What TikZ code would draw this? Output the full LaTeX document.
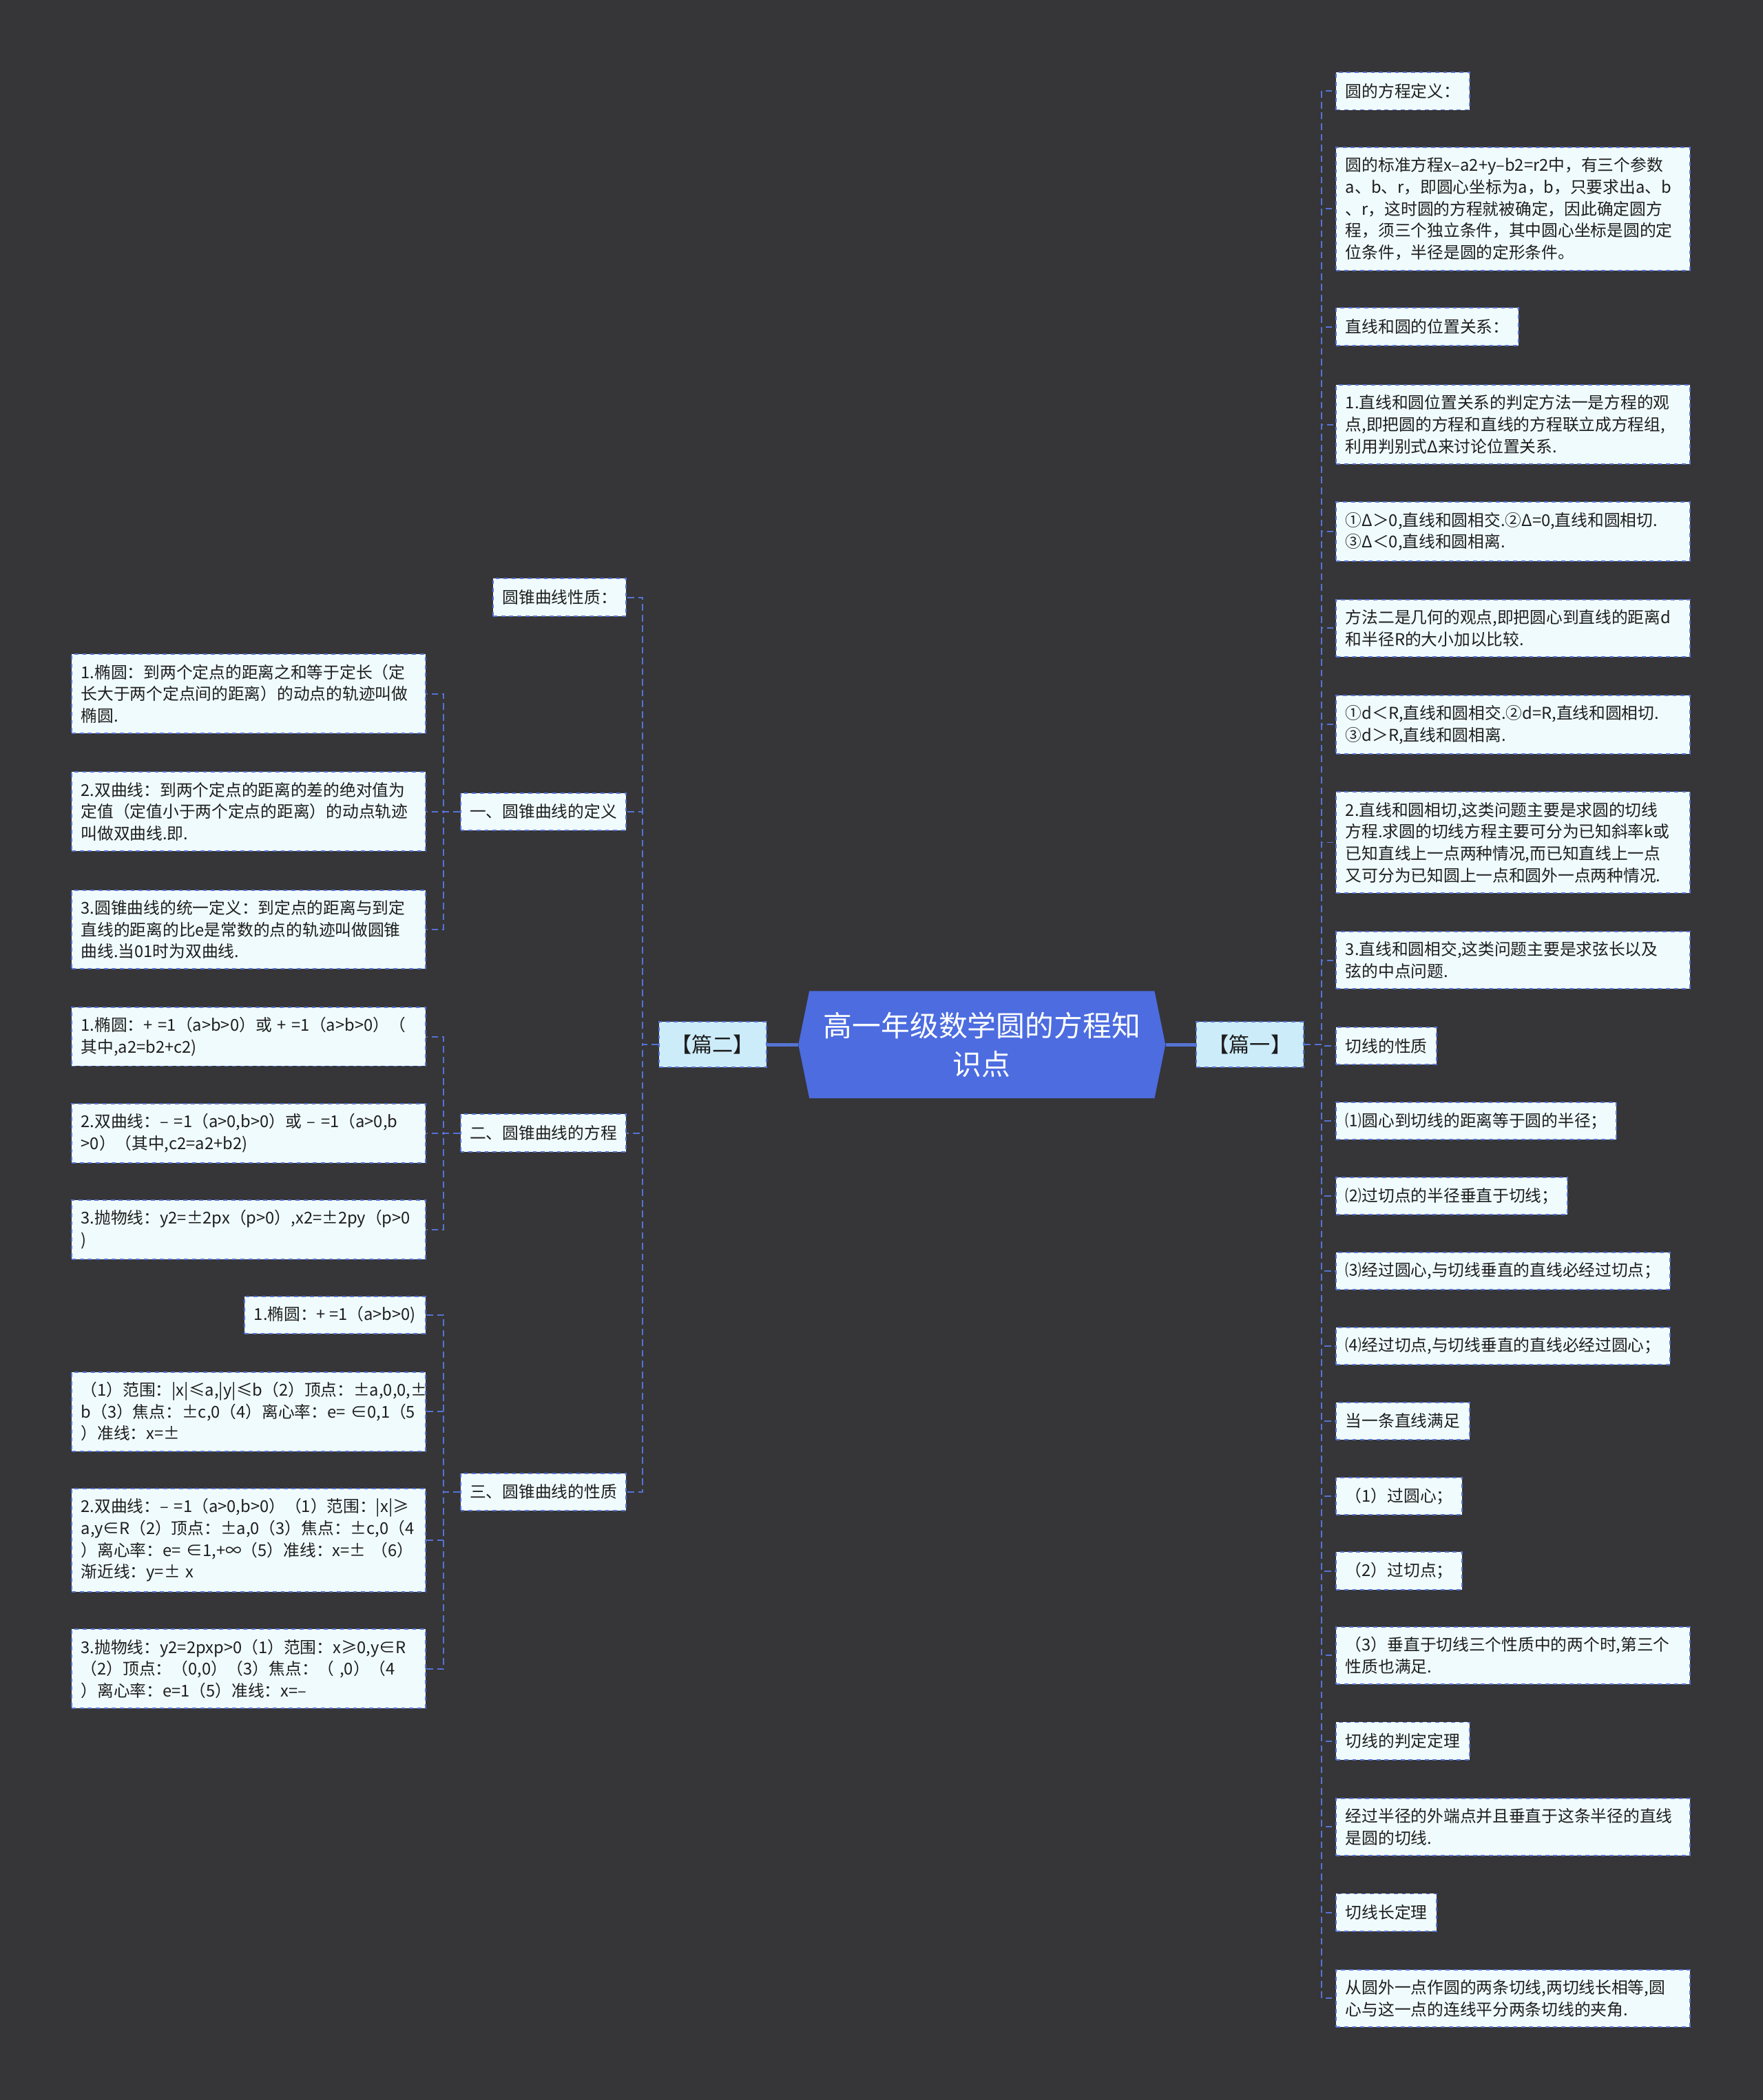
\documentclass[tikz,border=0pt]{standalone}
\usepackage{fontspec}
\setmainfont{Noto Sans CJK SC}
\usetikzlibrary{shapes.symbols}
\definecolor{bgdark}{RGB}{54,53,56}
\definecolor{rootblue}{RGB}{76,108,224}
\definecolor{linkblue}{RGB}{84,116,212}
\definecolor{partfill}{RGB}{204,236,250}
\definecolor{leaffill}{RGB}{240,251,253}
\definecolor{inktext}{RGB}{30,30,30}

\begin{document}
\begin{tikzpicture}[x=1pt,y=-1pt]
\tikzset{
  rootnode/.style={signal,signal to=west and east,signal pointer angle=157,fill=rootblue,draw=none,minimum width=274pt,minimum height=80pt,inner sep=2pt,align=center,text=white,font=\fontsize{21.5}{29}\selectfont},
  partnode/.style={rectangle,fill=partfill,draw=linkblue,dashed,line width=1pt,minimum width=80pt,minimum height=34pt,inner sep=2pt,text=inktext,font=\fontsize{15.5}{18}\selectfont},
  leafnode/.style={rectangle,fill=leaffill,draw=linkblue,dashed,line width=1pt,minimum height=28pt,inner xsep=7pt,inner ysep=7.5pt,align=left,text=inktext,font=\fontsize{12.2}{16.3}\selectfont},
  leafwide/.style={leafnode,text width=250pt},
  rootedge/.style={draw=linkblue,line width=2.5pt},
  linkedge/.style={draw=linkblue,line width=1pt,dash pattern=on 5pt off 3pt}
}
\fill[bgdark] (0,0) rectangle (1316,1568);

% centre and the two parts
\node[rootnode] (n_root) at (733,780) {高一年级数学圆的方程知\\识点};
\node[partnode] (n_p1) at (933,780) {【篇一】};
\node[partnode] (n_p2) at (532,780) {【篇二】};
\draw[rootedge] (n_root.east) -- (n_p1.west);
\draw[rootedge] (n_root.west) -- (n_p2.east);

% part one
\node[leafnode,anchor=west] (n_r01) at (997,68) {圆的方程定义：};
\node[leafwide,anchor=west] (n_r02) at (997,156) {圆的标准方程x–a2+y–b2=r2中，有三个参数\\a、b、r，即圆心坐标为a，b，只要求出a、b\\、r，这时圆的方程就被确定，因此确定圆方\\程，须三个独立条件，其中圆心坐标是圆的定\\位条件，半径是圆的定形条件。};
\node[leafnode,anchor=west] (n_r03) at (997,244) {直线和圆的位置关系：};
\node[leafwide,anchor=west] (n_r04) at (997,317) {1.直线和圆位置关系的判定方法一是方程的观\\点,即把圆的方程和直线的方程联立成方程组,\\利用判别式Δ来讨论位置关系.};
\node[leafwide,anchor=west] (n_r05) at (997,397) {①Δ＞0,直线和圆相交.②Δ=0,直线和圆相切.\\③Δ＜0,直线和圆相离.};
\node[leafwide,anchor=west] (n_r06) at (997,469) {方法二是几何的观点,即把圆心到直线的距离d\\和半径R的大小加以比较.};
\node[leafwide,anchor=west] (n_r07) at (997,541) {①d＜R,直线和圆相交.②d=R,直线和圆相切.\\③d＞R,直线和圆相离.};
\node[leafwide,anchor=west] (n_r08) at (997,629) {2.直线和圆相切,这类问题主要是求圆的切线\\方程.求圆的切线方程主要可分为已知斜率k或\\已知直线上一点两种情况,而已知直线上一点\\又可分为已知圆上一点和圆外一点两种情况.};
\node[leafwide,anchor=west] (n_r09) at (997,717) {3.直线和圆相交,这类问题主要是求弦长以及\\弦的中点问题.};
\node[leafnode,anchor=west] (n_r10) at (997,781) {切线的性质};
\node[leafnode,anchor=west] (n_r11) at (997,837) {⑴圆心到切线的距离等于圆的半径；};
\node[leafnode,anchor=west] (n_r12) at (997,893) {⑵过切点的半径垂直于切线；};
\node[leafnode,anchor=west] (n_r13) at (997,949) {⑶经过圆心,与切线垂直的直线必经过切点；};
\node[leafnode,anchor=west] (n_r14) at (997,1005) {⑷经过切点,与切线垂直的直线必经过圆心；};
\node[leafnode,anchor=west] (n_r15) at (997,1061) {当一条直线满足};
\node[leafnode,anchor=west] (n_r16) at (997,1117) {（1）过圆心；};
\node[leafnode,anchor=west] (n_r17) at (997,1173) {（2）过切点；};
\node[leafwide,anchor=west] (n_r18) at (997,1236) {（3）垂直于切线三个性质中的两个时,第三个\\性质也满足.};
\node[leafnode,anchor=west] (n_r19) at (997,1300) {切线的判定定理};
\node[leafwide,anchor=west] (n_r20) at (997,1364) {经过半径的外端点并且垂直于这条半径的直线\\是圆的切线.};
\node[leafnode,anchor=west] (n_r21) at (997,1428) {切线长定理};
\node[leafwide,anchor=west] (n_r22) at (997,1492) {从圆外一点作圆的两条切线,两切线长相等,圆\\心与这一点的连线平分两条切线的夹角.};
\foreach \k in {01,02,03,04,05,06,07,08,09,10,11,12,13,14,15,16,17,18,19,20,21,22}
  \draw[linkedge] (n_p1.east) -- ++(13,0) |- (n_r\k.west);

% part two
\node[leafnode,anchor=east] (n_L0) at (468,446) {圆锥曲线性质：};
\node[leafnode,anchor=east] (n_L1) at (468,606) {一、圆锥曲线的定义};
\node[leafnode,anchor=east] (n_L2) at (468,846) {二、圆锥曲线的方程};
\node[leafnode,anchor=east] (n_L3) at (468,1114) {三、圆锥曲线的性质};
\foreach \k in {0,1,2,3}
  \draw[linkedge] (n_p2.west) -- ++(-12,0) |- (n_L\k.east);

\node[leafwide,anchor=east] (n_L1a) at (318,518) {1.椭圆：到两个定点的距离之和等于定长（定\\长大于两个定点间的距离）的动点的轨迹叫做\\椭圆.};
\node[leafwide,anchor=east] (n_L1b) at (318,606) {2.双曲线：到两个定点的距离的差的绝对值为\\定值（定值小于两个定点的距离）的动点轨迹\\叫做双曲线.即.};
\node[leafwide,anchor=east] (n_L1c) at (318,694) {3.圆锥曲线的统一定义：到定点的距离与到定\\直线的距离的比e是常数的点的轨迹叫做圆锥\\曲线.当01时为双曲线.};
\foreach \k in {a,b,c}
  \draw[linkedge] (n_L1.west) -- ++(-12,0) |- (n_L1\k.east);

\node[leafwide,anchor=east] (n_L2a) at (318,774) {1.椭圆：+~=1（a>b>0）或~+~=1（a>b>0）（\\其中,a2=b2+c2)};
\node[leafwide,anchor=east] (n_L2b) at (318,846) {2.双曲线：–~=1（a>0,b>0）或~–~=1（a>0,b\\>0）（其中,c2=a2+b2)};
\node[leafwide,anchor=east] (n_L2c) at (318,918) {3.抛物线：y2=±2px（p>0）,x2=±2py（p>0\\)};
\foreach \k in {a,b,c}
  \draw[linkedge] (n_L2.west) -- ++(-12,0) |- (n_L2\k.east);

\node[leafnode,anchor=east] (n_L3a) at (318,982) {1.椭圆：+~=1（a>b>0)};
\node[leafwide,anchor=east] (n_L3b) at (318,1054) {（1）范围：|x|≤a,|y|≤b（2）顶点：±a,0,0,±\\b（3）焦点：±c,0（4）离心率：e=~∈0,1（5\\）准线：x=±};
\node[leafwide,anchor=east] (n_L3c) at (318,1150) {2.双曲线：–~=1（a>0,b>0）（1）范围：|x|≥\\a,y∈R（2）顶点：±a,0（3）焦点：±c,0（4\\）离心率：e=~∈1,+∞（5）准线：x=±~（6）\\渐近线：y=±~x};
\node[leafwide,anchor=east] (n_L3d) at (318,1246) {3.抛物线：y2=2pxp>0（1）范围：x≥0,y∈R\\（2）顶点：（0,0）（3）焦点：（~,0）（4\\）离心率：e=1（5）准线：x=–};
\foreach \k in {a,b,c,d}
  \draw[linkedge] (n_L3.west) -- ++(-12,0) |- (n_L3\k.east);
\end{tikzpicture}
\end{document}
